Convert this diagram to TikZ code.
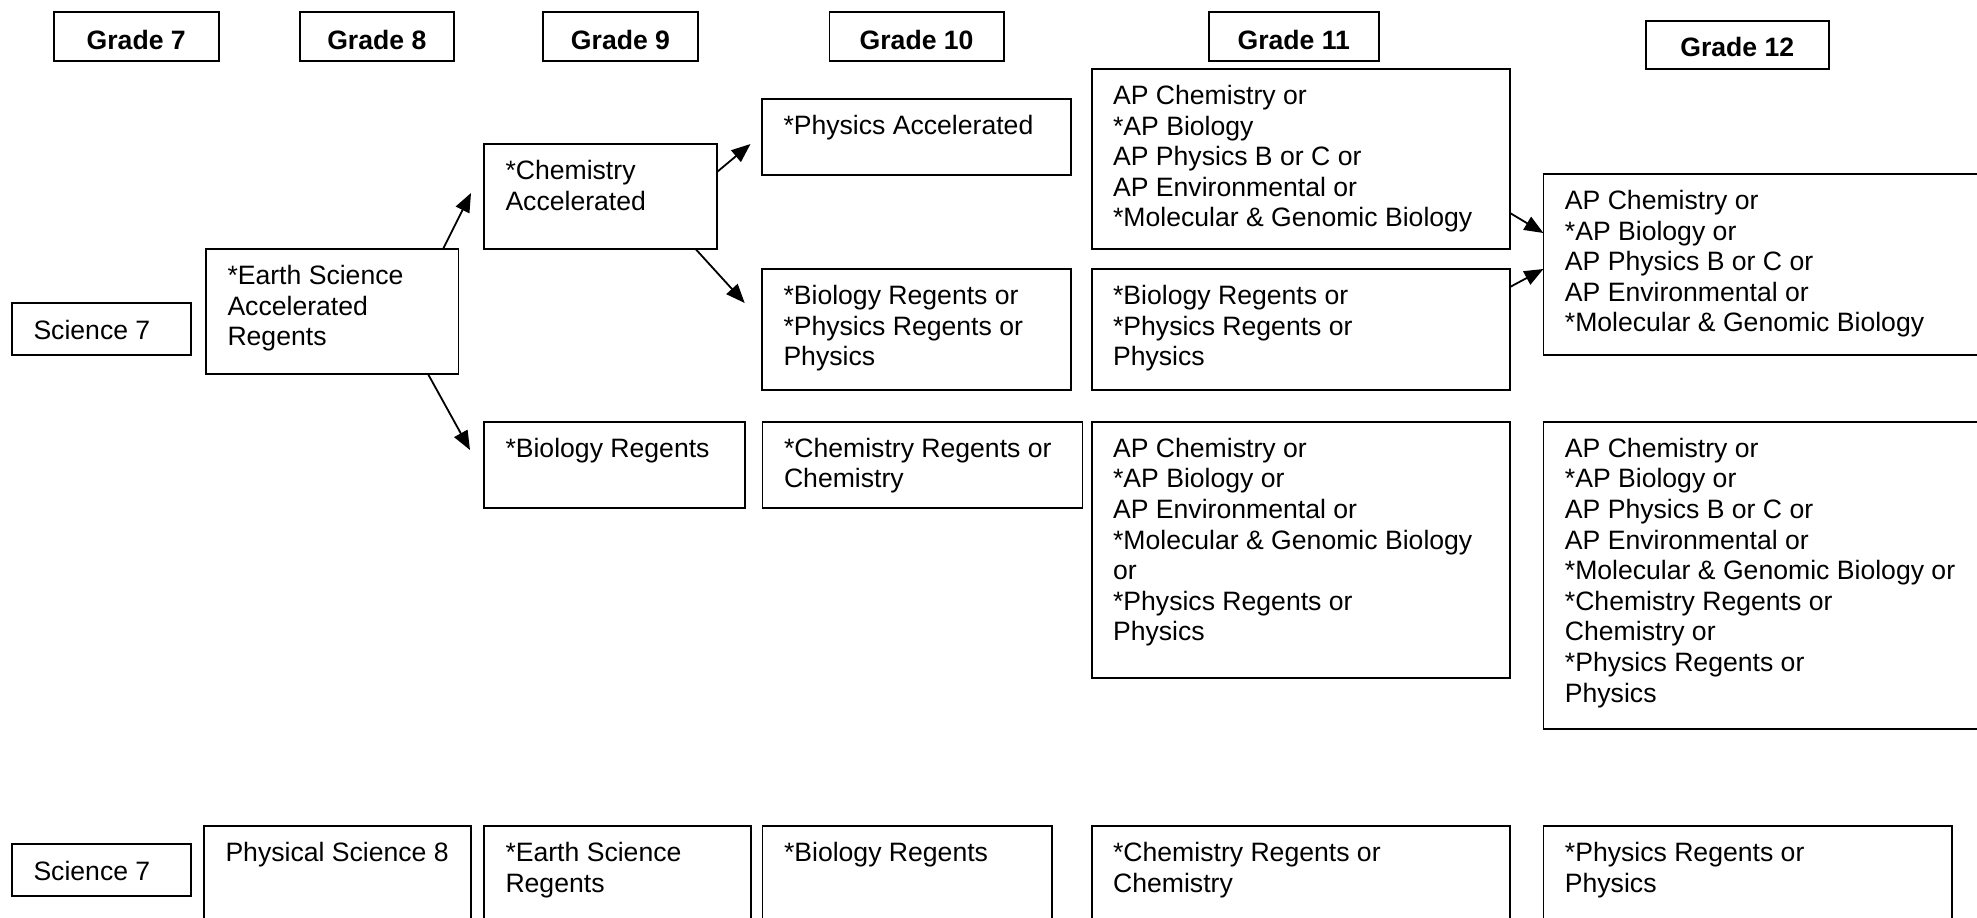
\documentclass[tikz,border=0pt]{standalone}
\usepackage{fontspec}
\setmainfont{Liberation Sans}
\usetikzlibrary{arrows.meta,calc}
\newdimen\px \px=0.5pt
\newcommand{\lft}{\raggedright\leftskip=21.5\px\relax}
\newcommand{\ctr}{\centering}
\newcommand{\nl}{\\{}}
% name, x, y, w, h, first-baseline, format, text
\newcommand{\cb}[8]{%
  \node[boxst] (#1) at (#2,#3) {\parbox[t][#5\px][t]{#4\px}{\vspace*{\dimexpr #6\px-\ht\strutbox\relax}#7\strut #8}};}
\begin{document}
\begin{tikzpicture}[x=0.5pt,y=-0.5pt,
  boxst/.style={draw, line width=0.9pt, inner sep=0pt, outer sep=0pt, anchor=north west,
    font=\fontsize{13.3pt}{15.3pt}\selectfont},
  arr/.style={line width=0.9pt, -{Triangle[length=9.5pt,width=7.5pt]}}]
\path[use as bounding box, clip] (0,0) rectangle (1977,917);
% grade headers
\cb{gSeven}{53.6}{12.3}{165.2}{48.7}{37}{\ctr}{\textbf{Grade 7}}
\cb{gEight}{299.6}{12.3}{154.4}{48.7}{37}{\ctr}{\textbf{Grade 8}}
\cb{gNine}{543}{12.3}{155}{48.7}{37}{\ctr}{\textbf{Grade 9}}
\cb{gTen}{829.5}{12.3}{174.2}{48.7}{37}{\ctr}{\textbf{Grade 10}}
\cb{gEleven}{1209}{12.3}{169.6}{48.7}{37}{\ctr}{\textbf{Grade 11}}
\cb{gTwelve}{1645.6}{20.7}{183.4}{48.6}{35.5}{\ctr}{\textbf{Grade 12}}
% accelerated track
\cb{sciA}{12}{303}{179}{52}{36}{\lft}{Science 7}
\cb{esA}{206}{249}{252.5}{125}{35.5}{\lft}{*Earth Science\nl Accelerated\nl Regents}
\cb{chemA}{484}{144}{233}{105}{35.5}{\lft}{*Chemistry\nl Accelerated}
\cb{bioA}{484}{421.8}{261}{86}{35.5}{\lft}{*Biology Regents}
\cb{physAcc}{762}{99}{309}{76}{35.5}{\lft}{*Physics Accelerated}
\cb{bioTen}{762}{269}{309}{121}{35.5}{\lft}{*Biology Regents or\nl *Physics Regents or\nl Physics}
\cb{chemTen}{762.5}{421.8}{320}{86}{35.5}{\lft}{*Chemistry Regents or\nl Chemistry}
\cb{apEleven}{1091.6}{69}{418.4}{180}{35.5}{\lft}{AP Chemistry or\nl *AP Biology\nl AP Physics B or C or\nl AP Environmental or\nl *Molecular \& Genomic Biology}
\cb{bioEleven}{1091.6}{269}{418.4}{121}{35.5}{\lft}{*Biology Regents or\nl *Physics Regents or\nl Physics}
\cb{apElevenB}{1091.6}{421.8}{418.4}{256.2}{35.5}{\lft}{AP Chemistry or\nl *AP Biology or\nl AP Environmental or\nl *Molecular \& Genomic Biology\nl or\nl *Physics Regents or\nl Physics}
\cb{apTwelve}{1543.4}{174}{460}{181}{35.5}{\lft}{AP Chemistry or\nl *AP Biology or\nl AP Physics B or C or\nl AP Environmental or\nl *Molecular \& Genomic Biology}
\cb{apTwelveB}{1543.4}{421.8}{460}{307.5}{35.5}{\lft}{AP Chemistry or\nl *AP Biology or\nl AP Physics B or C or\nl AP Environmental or\nl *Molecular \& Genomic Biology or\nl *Chemistry Regents or\nl Chemistry or\nl *Physics Regents or\nl Physics}
% regular track
\cb{sciB}{12}{844}{179}{52}{36}{\lft}{Science 7}
\cb{physEight}{204}{826}{266.7}{150}{35}{\lft}{Physical Science 8}
\cb{esNine}{484}{826}{266.6}{150}{35.5}{\lft}{*Earth Science\nl Regents}
\cb{bioTenB}{762.5}{826}{289.5}{150}{35.5}{\lft}{*Biology Regents}
\cb{chemElevenB}{1091.6}{826}{418.4}{150}{35.5}{\lft}{*Chemistry Regents or\nl Chemistry}
\cb{physTwelveB}{1543.4}{826}{408.2}{150}{35.5}{\lft}{*Physics Regents or\nl Physics}
% arrow tips (free ends)
\coordinate (tOne) at (471,193);
\coordinate (tTwo) at (470,450);
\coordinate (tThree) at (750.5,144);
\coordinate (tFour) at (744.7,303);
% connectors
\draw[arr] ($(esA.north west)+(237,0)$) -- (tOne);
\draw[arr] ($(esA.south west)+(222,0)$) -- (tTwo);
\draw[arr] ($(chemA.north east)+(0,28)$) -- (tThree);
\draw[arr] ($(chemA.south west)+(211.6,0)$) -- (tFour);
\draw[arr] ($(apEleven.north east)+(0,144)$) -- ($(apTwelve.north west)+(0,59)$);
\draw[arr] ($(bioEleven.north east)+(0,18)$) -- ($(apTwelve.north west)+(0,95)$);
\end{tikzpicture}
\end{document}
